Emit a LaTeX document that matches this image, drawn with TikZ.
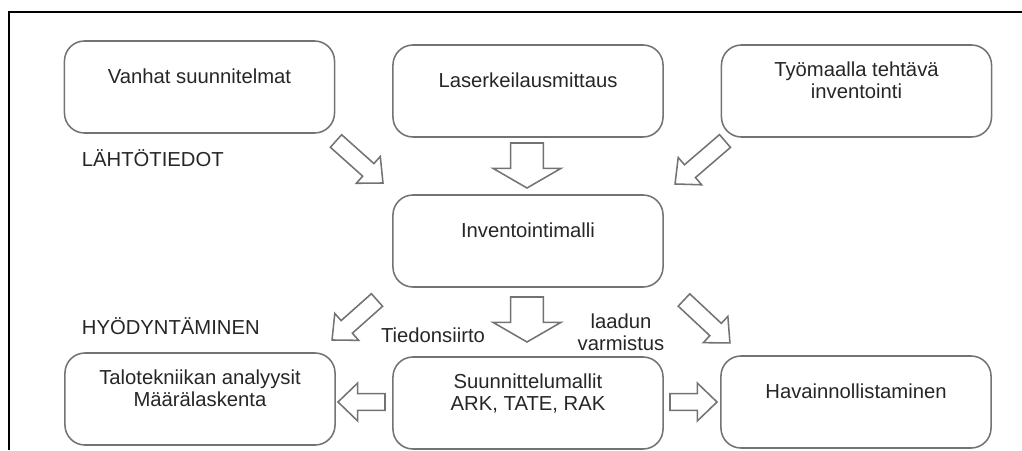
\documentclass[tikz,border=0pt]{standalone}
\usepackage{fontspec}
\setmainfont{Liberation Sans}
\usetikzlibrary{calc}

\tikzset{
  box/.style={draw=black!55, line width=1.1pt, rounded corners=0.5cm,
              minimum width=6.75cm, minimum height=2.3cm, align=center,
              text depth=16pt},
  blockarr/.style={draw=black!55, line width=1.1pt, fill=white, line join=miter}
}

% block arrow from #1 to #2, half shaft width #3 (pt), half head width #4 (pt)
\newcommand{\blockarrow}[4]{%
  \draw[blockarr] let \p1=($(#2)-(#1)$), \n1={atan2(\y1,\x1)},
                      \n2={veclen(\x1,\y1)}, \n3={\n2-14pt} in
    [shift={(#1)}, rotate=\n1]
    (0pt,-#3pt) -- (\n3,-#3pt) -- (\n3,-#4pt) -- (\n2,0pt)
    -- (\n3,#4pt) -- (\n3,#3pt) -- (0pt,#3pt) -- cycle;}

\begin{document}
\begin{tikzpicture}[x=0.025cm, y=-0.025cm,
                    font=\fontsize{14.4pt}{15.6pt}\selectfont, text=black!85]
\useasboundingbox (0,0) rectangle (1022,450);
\draw[line width=1.4pt] (9,450) -- (9,12) -- (1022,12);

\begin{scope}[every node/.style={box}]
    \node (1) at (199.5,87) {Vanhat suunnitelmat};
    \node (2) at (528,91)   {Laserkeilausmittaus};
    \node (3) at (856.5,91) {Työmaalla tehtävä\\inventointi};
    \node (4) at (528,241)  {Inventointimalli};
    \node (5) at (200,399)  {Talotekniikan analyysit\\Määrälaskenta};
    \node (6) at (528,403)  {Suunnittelumallit\\ARK, TATE, RAK};
    \node (7) at (856,402)  {Havainnollistaminen};
\end{scope}

\node[anchor=west] (lahto) at (77,158) {LÄHTÖTIEDOT};
\node[anchor=west] (hyoty) at (77,326) {HYÖDYNTÄMINEN};
\node (siirto) at (433,335) {Tiedonsiirto};
\node[align=center] (laatu) at (621,332) {laadun\\varmistus};

% arrow ends
\coordinate (s1) at (336,141); \coordinate (e1) at (383,183);
\coordinate (s2) at (527,143); \coordinate (e2) at (527,188);
\coordinate (s3) at (725,141); \coordinate (e3) at (675,184);
\coordinate (s4) at (377,300); \coordinate (e4) at (332,340);
\coordinate (s5) at (527,297); \coordinate (e5) at (527,342);
\coordinate (s6) at (684,300); \coordinate (e6) at (730,343);
\coordinate (s7) at (385,402); \coordinate (e7) at (338,402);
\coordinate (s8) at (670,402); \coordinate (e8) at (717,402);

\blockarrow{s1}{e1}{6}{12.8}
\blockarrow{s2}{e2}{11.7}{24.2}
\blockarrow{s3}{e3}{6}{12.8}
\blockarrow{s4}{e4}{6}{12.8}
\blockarrow{s5}{e5}{11.7}{24.2}
\blockarrow{s6}{e6}{6}{12.8}
\blockarrow{s7}{e7}{6}{13.5}
\blockarrow{s8}{e8}{6}{13.5}
\end{tikzpicture}
\end{document}
